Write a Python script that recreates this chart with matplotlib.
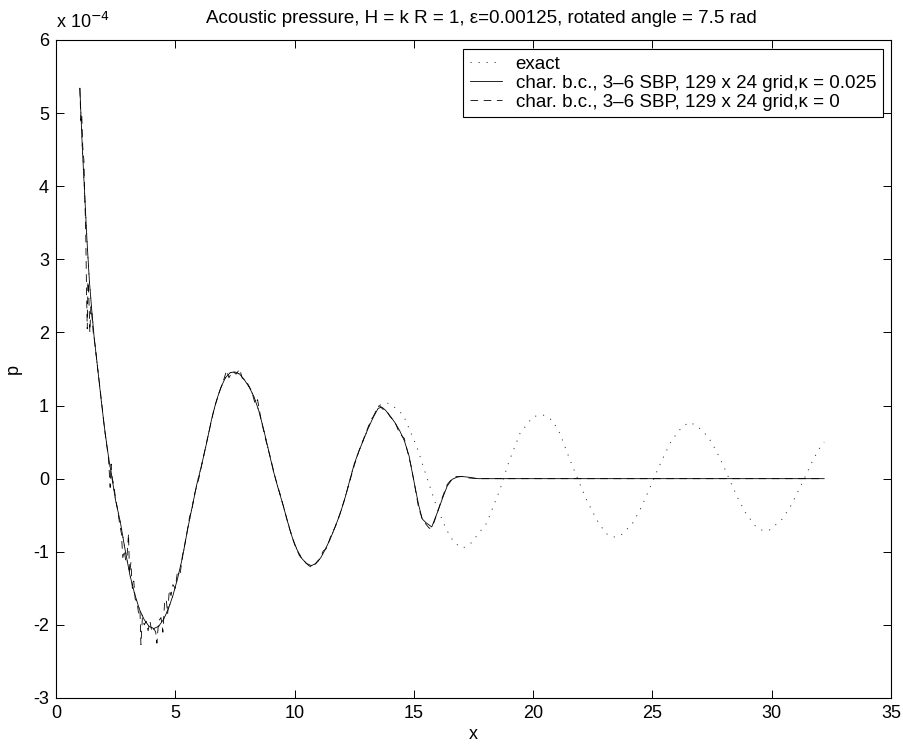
import matplotlib
matplotlib.use("Agg")
import matplotlib.pyplot as plt

plt.rcParams["font.family"] = ["Liberation Sans", "DejaVu Sans"]
plt.rcParams["axes.unicode_minus"] = False
plt.rcParams["lines.scale_dashes"] = False

# values of p are in units of 1e-4
exact_x = [1.0, 1.1, 1.2, 1.3, 1.4, 1.5, 1.6, 1.75, 1.9, 2.05, 2.2, 2.35, 2.5, 2.7,
           2.9, 3.1, 3.3, 3.5, 3.7, 3.9, 4.1, 4.3, 4.5, 4.7, 4.9, 5.1, 5.3, 5.5,
           5.7, 5.9, 6.1, 6.3, 6.5, 6.7, 6.9, 7.1, 7.3, 7.5, 7.7, 7.9, 8.1, 8.3,
           8.5, 8.7, 8.9, 9.1, 9.3, 9.5, 9.7, 9.9, 10.1, 10.3, 10.5, 10.7, 10.9,
           11.1, 11.3, 11.5, 11.7, 11.9, 12.1, 12.3, 12.5, 12.7, 12.9, 13.1, 13.3,
           13.6, 13.86, 14.1, 14.56, 15.12, 15.53, 15.95, 16.37, 16.7, 17.06,
           17.4, 18.05, 18.61, 18.96, 19.45, 20.0, 20.42, 20.8, 21.12, 21.54,
           21.89, 22.24, 22.66, 23.05, 23.36, 23.66, 24.15, 24.49, 24.78, 25.2,
           25.48, 25.8, 26.22, 26.53, 26.85, 27.34, 27.69, 28.0, 28.28, 28.57,
           28.91, 29.32, 29.62, 29.92, 30.45, 30.82, 31.14, 31.45, 31.75, 32.1,
           32.2]
exact_p = [5.34, 4.55, 3.90, 3.25, 2.70, 2.30, 1.93, 1.50, 1.06, 0.65, 0.30, 0.00,
           -0.30, -0.60, -0.98, -1.32, -1.58, -1.79, -1.93, -2.02, -2.05, -2.02,
           -1.93, -1.79, -1.60, -1.36, -1.08, -0.72, -0.40, -0.08, 0.18, 0.47,
           0.78, 1.04, 1.24, 1.38, 1.45, 1.46, 1.43, 1.35, 1.25, 1.12, 0.93, 0.68,
           0.40, 0.12, -0.12, -0.34, -0.58, -0.80, -0.97, -1.09, -1.16, -1.19,
           -1.16, -1.08, -0.96, -0.82, -0.66, -0.49, -0.28, -0.04, 0.20, 0.38,
           0.54, 0.70, 0.88, 1.01, 1.04, 1.00, 0.87, 0.44, 0.03, -0.38, -0.70,
           -0.88, -0.95, -0.88, -0.61, -0.15, 0.21, 0.62, 0.85, 0.87, 0.80, 0.62,
           0.26, -0.02, -0.29, -0.56, -0.75, -0.80, -0.78, -0.62, -0.42, -0.21,
           0.11, 0.31, 0.52, 0.70, 0.77, 0.73, 0.57, 0.37, 0.16, -0.05, -0.26,
           -0.47, -0.65, -0.71, -0.70, -0.55, -0.36, -0.15, 0.06, 0.27, 0.47,
           0.50]

visc_x = [1.0, 1.1, 1.2, 1.3, 1.4, 1.5, 1.6, 1.75, 1.9, 2.05, 2.2, 2.35, 2.5, 2.7,
          2.9, 3.1, 3.3, 3.5, 3.7, 3.9, 4.1, 4.3, 4.5, 4.7, 4.9, 5.1, 5.3, 5.5,
          5.7, 5.9, 6.1, 6.3, 6.5, 6.7, 6.9, 7.1, 7.3, 7.5, 7.7, 7.9, 8.1, 8.3,
          8.5, 8.7, 8.9, 9.1, 9.3, 9.5, 9.7, 9.9, 10.1, 10.3, 10.5, 10.7, 10.9,
          11.1, 11.3, 11.5, 11.7, 11.9, 12.1, 12.3, 12.5, 12.7, 12.9, 13.1, 13.3,
          13.5, 13.65, 13.8, 14.0, 14.2, 14.4, 14.6, 14.8, 15.0, 15.2, 15.35,
          15.5, 15.75, 16.0, 16.2, 16.4, 16.6, 16.8, 17.0, 17.3, 17.7, 32.2]
visc_p = [5.34, 4.55, 3.90, 3.25, 2.70, 2.30, 1.93, 1.50, 1.06, 0.65, 0.30, 0.00,
          -0.30, -0.60, -0.98, -1.32, -1.58, -1.79, -1.93, -2.02, -2.05, -2.02,
          -1.93, -1.79, -1.60, -1.36, -1.08, -0.72, -0.40, -0.08, 0.18, 0.47,
          0.78, 1.04, 1.24, 1.38, 1.45, 1.46, 1.43, 1.35, 1.25, 1.12, 0.93, 0.68,
          0.40, 0.12, -0.12, -0.34, -0.58, -0.80, -0.97, -1.09, -1.16, -1.19,
          -1.16, -1.08, -0.96, -0.82, -0.66, -0.49, -0.28, -0.04, 0.20, 0.38,
          0.54, 0.70, 0.84, 0.96, 0.98, 0.94, 0.86, 0.77, 0.66, 0.52, 0.31,
          -0.03, -0.36, -0.55, -0.60, -0.66, -0.45, -0.27, -0.10, -0.01, 0.02,
          0.03, 0.02, 0.0, 0.0]

novisc_x = [1.00, 1.04, 1.08, 1.12, 1.17, 1.21, 1.25, 1.28, 1.31, 1.34, 1.38, 1.42,
            1.46, 1.50, 1.56, 1.63, 1.72, 1.82, 1.92, 2.02, 2.12, 2.20, 2.24, 2.27,
            2.31, 2.36, 2.42, 2.50, 2.58, 2.66, 2.74, 2.80, 2.86, 2.92, 2.98, 3.04,
            3.08, 3.14, 3.20, 3.26, 3.32, 3.40, 3.46, 3.52, 3.56, 3.62, 3.70, 3.78,
            3.86, 3.94, 4.02, 4.10, 4.18, 4.23, 4.30, 4.40, 4.48, 4.55, 4.62, 4.68,
            4.75, 4.82, 4.90, 5.00, 5.08, 5.20, 5.30, 5.40, 5.50, 5.60, 5.70, 5.80,
            5.90, 6.00, 6.2, 6.4, 6.6, 6.8, 7.0, 7.15, 7.25, 7.4, 7.55, 7.7, 7.8,
            8.0, 8.2, 8.35, 8.45, 8.6, 8.8, 9.0, 9.2, 9.4, 9.6, 9.8, 10.0, 10.2,
            10.4, 10.6, 10.75, 10.9, 11.05, 11.2, 11.35, 11.5, 11.7, 11.9, 12.1,
            12.3, 12.5, 12.7, 12.9, 13.1, 13.3, 13.45, 13.55, 13.7, 13.85, 14.0,
            14.2, 14.4, 14.6, 14.75, 14.9, 15.05, 15.2, 15.35, 15.5, 15.65, 15.8,
            16.0, 16.2, 16.4, 16.6, 16.8, 17.0, 17.3, 17.7, 32.2]
novisc_p = [5.34, 4.90, 4.98, 4.55, 4.35, 3.80, 3.30, 2.55, 2.05, 2.70, 2.45, 2.00,
            2.35, 2.25, 2.00, 1.85, 1.58, 1.30, 1.02, 0.72, 0.48, 0.28, 0.05, -0.12,
            0.20, 0.00, -0.08, -0.28, -0.42, -0.60, -0.75, -1.08, -0.98, -1.12,
            -1.05, -0.75, -1.30, -1.15, -1.50, -1.40, -1.65, -1.68, -1.85, -1.80,
            -2.27, -1.90, -2.00, -1.95, -2.08, -1.95, -2.10, -2.05, -2.10, -2.25,
            -1.95, -1.90, -2.10, -1.70, -1.65, -1.85, -1.52, -1.60, -1.45, -1.50,
            -1.30, -1.32, -1.05, -0.90, -0.72, -0.52, -0.42, -0.22, -0.10, 0.02,
            0.33, 0.62, 0.92, 1.14, 1.32, 1.48, 1.38, 1.47, 1.43, 1.50, 1.38, 1.32,
            1.20, 1.02, 1.08, 0.80, 0.52, 0.27, 0.00, -0.22, -0.46, -0.70, -0.90,
            -1.05, -1.13, -1.19, -1.22, -1.15, -1.10, -0.99, -0.95, -0.80, -0.66,
            -0.48, -0.28, -0.05, 0.18, 0.38, 0.55, 0.72, 0.85, 0.95, 1.00, 0.95,
            0.93, 0.85, 0.78, 0.62, 0.55, 0.35, 0.15, -0.12, -0.40, -0.55, -0.62,
            -0.68, -0.64, -0.45, -0.25, -0.08, 0.00, 0.03, 0.03, 0.01, 0.0, 0.0]

fig = plt.figure(figsize=(9.04, 7.49), dpi=100)
ax = fig.add_axes([56 / 904, 1 - 698 / 749, 835 / 904, 658 / 749])

ax.plot(exact_x, exact_p, color="#333333", linewidth=0.7,
        linestyle=(0, (0.8, 5.0)), label="exact")
ax.plot(visc_x, visc_p, color="black", linewidth=0.6,
        label="char. b.c., 3\u20136 SBP, 129 x 24 grid,\u03ba = 0.025")
ax.plot(novisc_x, novisc_p, color="black", linewidth=0.6,
        linestyle=(0, (5.5, 4.0)),
        label="char. b.c., 3\u20136 SBP, 129 x 24 grid,\u03ba = 0")

ax.set_xlim(0, 35)
ax.set_ylim(-3, 6)
ax.set_xticks(range(0, 36, 5))
ax.set_yticks(range(-3, 7))
ax.tick_params(direction="in", length=6, width=0.7, labelsize=13,
               top=True, right=True, pad=5)
for s in ax.spines.values():
    s.set_linewidth(0.8)

ax.set_xlabel("x", fontsize=13, labelpad=3)
ax.set_ylabel("p", fontsize=13, labelpad=8)
ax.set_title("Acoustic pressure, H = k R = 1, \u03b5=0.00125, rotated angle = 7.5 rad",
             fontsize=13.5, pad=12, x=0.51)
ax.text(0.0, 1.012, "x 10$^{-4}$", transform=ax.transAxes, fontsize=13,
        ha="left", va="bottom")

leg = ax.legend(loc="upper right", bbox_to_anchor=(0.990, 0.986),
                borderaxespad=0, fontsize=13.5, fancybox=False,
                edgecolor="black", framealpha=1, handlelength=1.7,
                handletextpad=0.75, labelspacing=0.1, borderpad=0.35)
leg.get_frame().set_linewidth(0.8)

fig.savefig("out.png", dpi=100)
